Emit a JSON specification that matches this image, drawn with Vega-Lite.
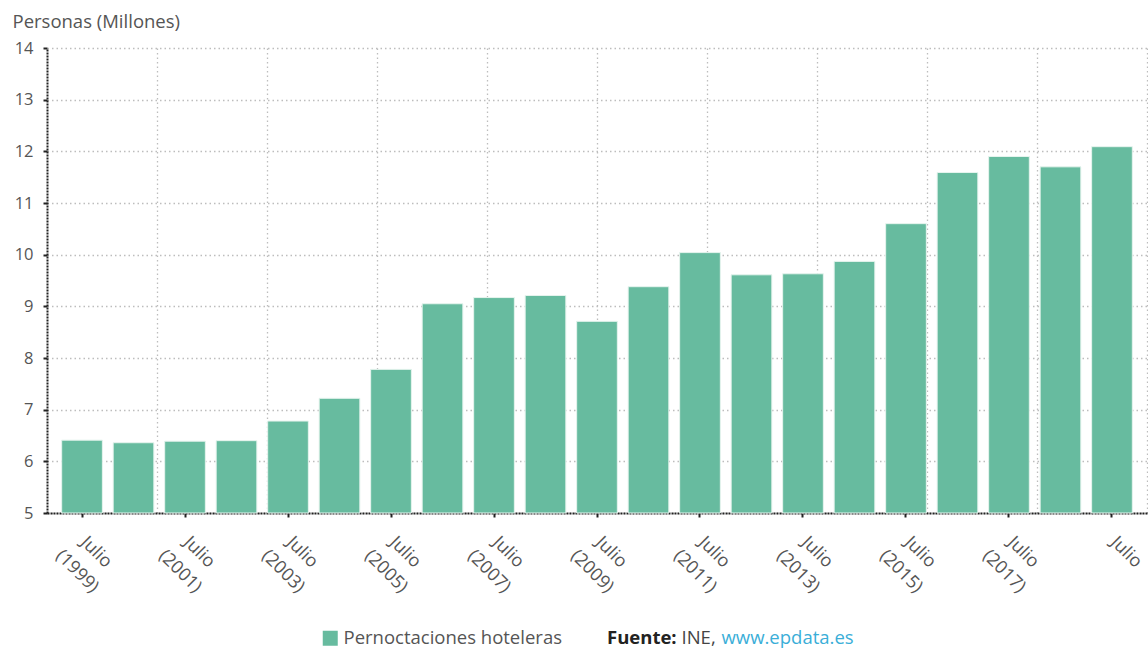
{
  "$schema": "https://vega.github.io/schema/vega-lite/v6.json",
  "width": 1100,
  "height": 465,
  "autosize": {"type": "none"},
  "padding": {"left": 47, "top": 48, "right": 1, "bottom": 136},
  "background": "white",
  "config": {
    "font": "Open Sans",
    "view": {"stroke": null}
  },
  "data": {
    "values": [
      {"anio": "1999", "personas": 6.41},
      {"anio": "2000", "personas": 6.36},
      {"anio": "2001", "personas": 6.39},
      {"anio": "2002", "personas": 6.40},
      {"anio": "2003", "personas": 6.78},
      {"anio": "2004", "personas": 7.22},
      {"anio": "2005", "personas": 7.78},
      {"anio": "2006", "personas": 9.05},
      {"anio": "2007", "personas": 9.17},
      {"anio": "2008", "personas": 9.21},
      {"anio": "2009", "personas": 8.71},
      {"anio": "2010", "personas": 9.38},
      {"anio": "2011", "personas": 10.04},
      {"anio": "2012", "personas": 9.61},
      {"anio": "2013", "personas": 9.63},
      {"anio": "2014", "personas": 9.87},
      {"anio": "2015", "personas": 10.60},
      {"anio": "2016", "personas": 11.59},
      {"anio": "2017", "personas": 11.90},
      {"anio": "2018", "personas": 11.70},
      {"anio": "2019", "personas": 12.09}
    ]
  },
  "layer": [
    {
      "mark": {"type": "rule", "opacity": 0},
      "encoding": {
        "x": {
          "datum": 0,
          "type": "quantitative",
          "scale": {"domain": [0, 10], "nice": false, "zero": false},
          "axis": {
            "orient": "top",
            "values": [1, 2, 3, 4, 5, 6, 7, 8, 9, 10],
            "labels": false,
            "ticks": false,
            "domain": false,
            "title": null,
            "grid": true,
            "gridColor": "#bdbdbd",
            "gridDash": [1.5, 3],
            "gridWidth": 1.3
          }
        }
      }
    },
    {
      "mark": {"type": "bar", "stroke": "#e6f4ee", "strokeWidth": 1},
      "encoding": {
        "x": {
          "field": "anio",
          "type": "nominal",
          "sort": null,
          "scale": {"paddingInner": 0.21, "paddingOuter": 0.285},
          "axis": {
            "title": null,
            "values": ["1999", "2001", "2003", "2005", "2007", "2009", "2011", "2013", "2015", "2017", "2019"],
            "labelExpr": "datum.value == '2019' ? 'Julio' : ['Julio', '(' + datum.value + ')']",
            "labelAngle": 45,
            "labelAlign": "center",
            "labelBaseline": "middle",
            "labelOffset": 14,
            "labelPadding": 35,
            "labelLineHeight": 27,
            "labelFontSize": 18,
            "labelColor": "#555555",
            "labelOverlap": false,
            "labelBound": false,
            "tickSize": 4,
            "tickWidth": 2,
            "tickColor": "#222222",
            "domainColor": "#222222",
            "domainDash": [2, 1],
            "domainWidth": 2,
            "grid": false
          }
        },
        "y": {
          "field": "personas",
          "type": "quantitative",
          "scale": {"domain": [5, 14], "nice": false, "zero": false},
          "axis": {
            "title": "Personas (Millones)",
            "titleAngle": 0,
            "titleAlign": "left",
            "titleBaseline": "middle",
            "titleX": -35,
            "titleY": -27,
            "titleFontSize": 18.5,
            "titleFontWeight": "normal",
            "titleColor": "#555555",
            "values": [5, 6, 7, 8, 9, 10, 11, 12, 13, 14],
            "labelFontSize": 16.5,
            "labelColor": "#555555",
            "labelPadding": 10,
            "tickSize": 4,
            "tickWidth": 2,
            "tickColor": "#222222",
            "domainColor": "#222222",
            "domainDash": [2, 1],
            "domainWidth": 2,
            "grid": true,
            "gridColor": "#bdbdbd",
            "gridDash": [1.5, 3],
            "gridWidth": 1.3
          }
        },
        "y2": {"datum": 5},
        "color": {
          "datum": "Pernoctaciones hoteleras",
          "type": "nominal",
          "scale": {"range": ["#67bb9f"]},
          "legend": {
            "orient": "none",
            "legendX": 274,
            "legendY": 581,
            "direction": "horizontal",
            "title": null,
            "symbolType": "square",
            "symbolSize": 225,
            "symbolStrokeWidth": 0,
            "labelFontSize": 18.5,
            "labelColor": "#555555",
            "labelLimit": 300
          }
        }
      }
    },
    {
      "mark": {"type": "point", "opacity": 0},
      "encoding": {
        "shape": {
          "datum": "INE,",
          "type": "nominal",
          "legend": {
            "orient": "none",
            "legendX": 560,
            "legendY": 581,
            "direction": "horizontal",
            "title": "Fuente:",
            "titleOrient": "left",
            "titleFontSize": 18.5,
            "titleFontWeight": "bold",
            "titleColor": "#222222",
            "titlePadding": -14,
            "symbolSize": 0,
            "symbolOpacity": 0,
            "symbolStrokeWidth": 0,
            "labelOffset": 0,
            "labelFontSize": 18.5,
            "labelColor": "#444444"
          }
        },
        "strokeDash": {
          "datum": "www.epdata.es",
          "type": "nominal",
          "legend": {
            "orient": "none",
            "legendX": 656,
            "legendY": 581,
            "direction": "horizontal",
            "title": null,
            "symbolSize": 0,
            "symbolOpacity": 0,
            "symbolStrokeWidth": 0,
            "labelOffset": 0,
            "labelFontSize": 18.5,
            "labelColor": "#3aaed8"
          }
        }
      }
    }
  ],
  "resolve": {"scale": {"x": "independent"}, "axis": {"x": "independent"}}
}
